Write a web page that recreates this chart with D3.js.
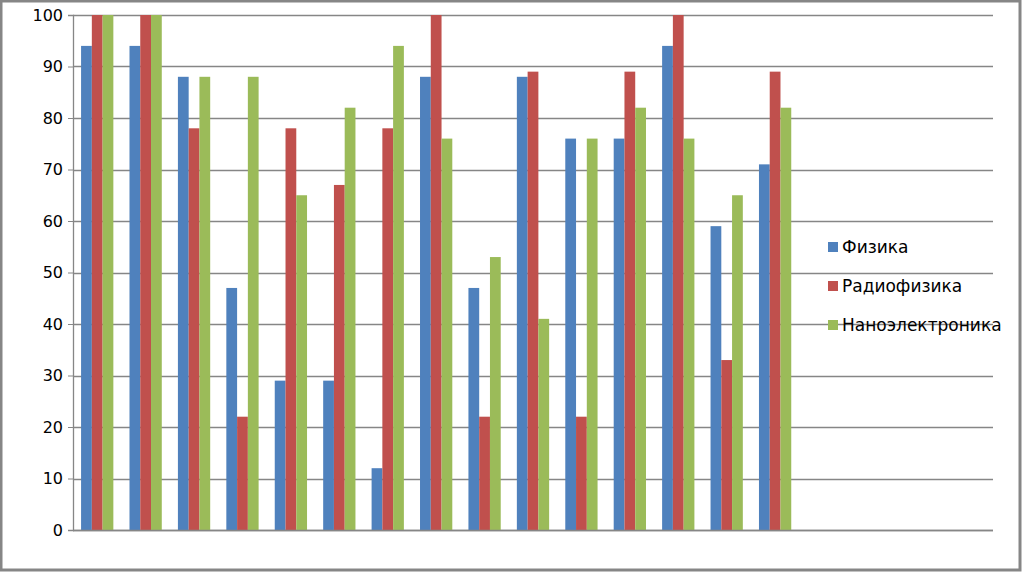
<!DOCTYPE html>
<meta charset="utf-8">
<style>
  body { margin: 0; background: #fff; }
  text { font-family: "DejaVu Sans", "Liberation Sans", sans-serif; fill: #000; }
</style>
<body>
<script src="https://d3js.org/d3.v7.min.js"></script>
<script>
  // categories (no labels shown on the x axis)
  var categories = d3.range(1, 20).map(String);
  var series = ["Физика", "Радиофизика", "Наноэлектроника"];
  var fizika = [94, 94, 88, 47, 29, 29, 12, 88, 47, 88, 76, 76, 94, 59, 71, null, null, null, null];
  var radiofizika = [100, 100, 78, 22, 78, 67, 78, 100, 22, 89, 22, 89, 100, 33, 89, null, null, null, null];
  var nano = [100, 100, 88, 88, 65, 82, 94, 76, 53, 41, 76, 82, 76, 65, 82, null, null, null, null];
  var yTicks = [0, 10, 20, 30, 40, 50, 60, 70, 80, 90, 100];
  var colors = ["#4F81BD", "#C0504D", "#9BBB59"];

  var values = [fizika, radiofizika, nano];

  var width = 1022, height = 572;
  var margin = {top: 15, right: 29, bottom: 42, left: 73},
    w = width - margin.left - margin.right,
    h = height - margin.top - margin.bottom;

  var svg = d3.select("body").append("svg")
    .attr("width", width)
    .attr("height", height);

  // outer frame
  svg.append("rect")
    .attr("x", 1).attr("y", 1)
    .attr("width", width - 3).attr("height", height - 3)
    .attr("fill", "#fff")
    .attr("stroke", "#868686")
    .attr("stroke-width", 3);

  var g = svg.append("g")
    .attr("transform", "translate(" + margin.left + "," + margin.top + ")");

  var x = d3.scaleBand()
    .domain(categories)
    .range([0, w]);

  var barW = x.bandwidth() / 4.5;
  var x1 = d3.scaleBand()
    .domain(series)
    .range([0, barW * 3]);

  var y = d3.scaleLinear()
    .domain([0, 100])
    .range([h, 0]);

  // gridlines
  g.append("g")
    .selectAll("line")
    .data(yTicks)
    .enter().append("line")
    .attr("x1", 0).attr("x2", w)
    .attr("y1", function (d) { return Math.round(y(d)) + 0.5; })
    .attr("y2", function (d) { return Math.round(y(d)) + 0.5; })
    .attr("stroke", "#868686")
    .attr("stroke-width", 1.3);

  // bars
  series.forEach(function (s, si) {
    g.append("g")
      .attr("fill", colors[si])
      .selectAll("rect")
      .data(categories.map(function (c, i) { return {c: c, v: values[si][i]}; })
        .filter(function (d) { return d.v != null; }))
      .enter().append("rect")
      .attr("x", function (d) { return x(d.c) + barW * 0.75 + x1(s); })
      .attr("width", x1.bandwidth())
      .attr("y", function (d) { return y(d.v); })
      .attr("height", function (d) { return h - y(d.v); });
  });

  // y axis
  var yAxis = d3.axisLeft(y)
    .tickValues(yTicks)
    .tickSize(5)
    .tickPadding(5);

  var ya = g.append("g").call(yAxis);
  ya.select(".domain").attr("stroke", "#868686").attr("stroke-width", 1.3);
  ya.selectAll(".tick line").attr("stroke", "#868686");
  ya.selectAll(".tick text")
    .style("font-size", "16px")
    .attr("fill", "#000");

  // x axis baseline
  g.append("line")
    .attr("x1", 0).attr("x2", w)
    .attr("y1", h + 0.5).attr("y2", h + 0.5)
    .attr("stroke", "#868686")
    .attr("stroke-width", 1.5);

  // legend
  var legend = svg.append("g")
    .attr("transform", "translate(828,242)");

  var li = legend.selectAll("g")
    .data(series)
    .enter().append("g")
    .attr("transform", function (d, i) { return "translate(0," + i * 39 + ")"; });

  li.append("rect")
    .attr("width", 10).attr("height", 10)
    .attr("fill", function (d, i) { return colors[i]; });

  li.append("text")
    .attr("x", 14)
    .attr("y", 5)
    .attr("dy", "0.35em")
    .style("font-size", "17px")
    .text(function (d) { return d; });
</script>
</body>
